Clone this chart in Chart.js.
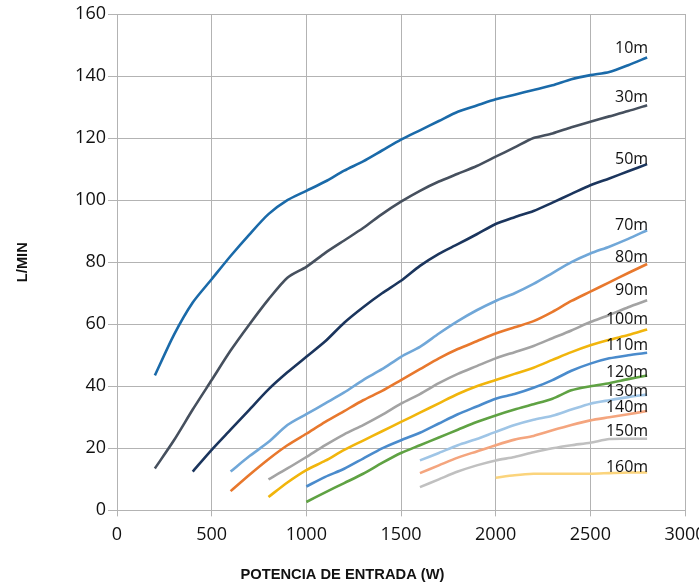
<!DOCTYPE html>
<html>
<head>
<meta charset="utf-8">
<script src="https://cdn.jsdelivr.net/npm/chart.js@4.4.1/dist/chart.umd.min.js"></script>
<style>
  html, body { margin: 0; padding: 0; background: #fff; }
  #wrap { width: 699px; height: 584px; }
</style>
</head>
<body>
<div id="wrap"><canvas id="bombaChart"></canvas></div>
<script>
// potencia de entrada (W) y caudal (L/min) por altura
const potencia = [200, 300, 400, 500, 600, 700, 800, 900, 1000, 1100, 1200, 1300, 1400, 1500,
                  1600, 1700, 1800, 1900, 2000, 2100, 2200, 2300, 2400, 2500, 2600, 2700, 2800];

const alturas = ['10m', '30m', '50m', '70m', '80m', '90m', '100m', '110m', '120m', '130m', '140m', '150m', '160m'];

const q10  = [43.5, 56.5, 67, 74.5, 82, 89, 95.5, 100, 103, 106, 109.5, 112.5, 116, 119.5, 122.5, 125.5, 128.5, 130.5, 132.5, 134, 135.5, 137, 139, 140.3, 141.3, 143.5, 146];
const q30  = [13.5, 22.5, 32.5, 42, 51.5, 60, 68, 75, 78.5, 83, 87, 91, 95.5, 99.5, 103, 106, 108.5, 111, 114, 117, 120, 121.5, 123.5, 125.3, 127, 128.7, 130.6];
const q50  = [null, null, 12.5, 19.5, 26, 32.5, 39, 44.5, 49.5, 54.5, 60.5, 65.5, 70, 74, 78.8, 82.7, 85.8, 89, 92.3, 94.5, 96.5, 99.2, 102, 104.8, 107, 109.3, 111.6];
const q70  = [null, null, null, null, 12.5, 17.5, 22, 27.5, 31, 34.5, 38, 42, 45.5, 49.5, 52.7, 57, 61, 64.5, 67.5, 70, 73, 76.5, 80, 82.8, 85, 87.5, 90.3];
const q80  = [null, null, null, null, 6.2, 11.5, 16.5, 21, 24.7, 28.5, 32, 35.5, 38.5, 42, 45.5, 49, 52, 54.5, 57, 59, 61, 64, 67.5, 70.5, 73.5, 76.5, 79.4];
const q90  = [null, null, null, null, null, null, 10, 13.5, 17.2, 21, 24.5, 27.5, 30.8, 34.4, 37.5, 41, 44, 46.5, 49, 51, 53, 55.5, 58, 60.7, 63, 65.5, 67.7];
const q100 = [null, null, null, null, null, null, 4.3, 9, 13, 16, 19.5, 22.5, 25.5, 28.5, 31.5, 34.5, 37.5, 40, 42, 44, 46, 48.5, 51, 53.2, 55, 56.5, 58.3];
const q110 = [null, null, null, null, null, null, null, null, 7.7, 10.8, 13.4, 16.7, 20, 22.6, 25, 28, 31, 33.5, 36, 37.5, 39.5, 42, 45, 47.3, 49, 50, 50.8];
const q120 = [null, null, null, null, null, null, null, null, 2.7, 5.8, 8.8, 11.8, 15.3, 18.5, 21, 23.5, 26, 28.5, 30.6, 32.5, 34.2, 36, 38.7, 40, 41, 42.3, 43.5];
const q130 = [null, null, null, null, null, null, null, null, null, null, null, null, null, null, 16.1, 18.5, 21, 23, 25.3, 27.5, 29.2, 30.5, 32.5, 34.4, 35.5, 36.5, 37.3];
const q140 = [null, null, null, null, null, null, null, null, null, null, null, null, null, null, 12, 14.5, 17, 19, 21, 22.8, 24, 25.8, 27.5, 29, 30, 31, 32];
const q150 = [null, null, null, null, null, null, null, null, null, null, null, null, null, null, 7.5, 10, 12.5, 14.5, 16.1, 17.2, 18.7, 20, 21, 21.8, 23, 23.1, 23.1];
const q160 = [null, null, null, null, null, null, null, null, null, null, null, null, null, null, null, null, null, null, 10.5, 11.3, 11.8, 11.8, 11.8, 11.8, 12, 12.2, 12.2];

const xTicks = [0, 500, 1000, 1500, 2000, 2500, 3000];
const yTicks = [0, 20, 40, 60, 80, 100, 120, 140, 160];

// estilos
const colores = ['#1a6aa9', '#46505e', '#1b355d', '#70a7d8', '#e8782d', '#a3a3a3', '#f1b50c',
                 '#4a8bcc', '#5fa243', '#9fc5e6', '#f4a57e', '#c0c0c0', '#fbd47c'];
// desplazamiento vertical (px) de cada etiqueta respecto al final de su curva
const etiquetaDy = [-4, -3, 0, 0, -2, -5, -5.5, -3, 1.5, 1.3, 1, -2.7, -0.5];

const series = [q10, q30, q50, q70, q80, q90, q100, q110, q120, q130, q140, q150, q160];

function puntos(vals) {
  const out = [];
  vals.forEach((v, i) => { if (v !== null) out.push({ x: potencia[i], y: v }); });
  return out;
}

const datasets = series.map((vals, i) => ({
  label: alturas[i],
  data: puntos(vals),
  borderColor: colores[i],
  backgroundColor: colores[i],
  borderWidth: 2.6,
  pointRadius: 0,
  tension: 0.25,
  fill: false
}));

// etiquetas al final de cada curva
const etiquetas = {
  id: 'etiquetas',
  afterDatasetsDraw(chart) {
    const ctx = chart.ctx;
    ctx.save();
    ctx.font = '16px "Open Sans"';
    ctx.fillStyle = '#111';
    ctx.textAlign = 'right';
    ctx.textBaseline = 'alphabetic';
    chart.data.datasets.forEach((ds, i) => {
      const meta = chart.getDatasetMeta(i);
      const last = meta.data[meta.data.length - 1];
      ctx.fillText(ds.label, last.x + 1, last.y + etiquetaDy[i]);
    });
    ctx.restore();
  }
};

const gridColor = '#b3b3b3';
const tickFont = { family: '"Open Sans"', size: 18 };
const titleFont = { family: '"Liberation Sans"', size: 14.7, weight: 'bold' };

function dibujar() {
  new Chart(document.getElementById('bombaChart'), {
    type: 'line',
    data: { datasets: datasets },
    options: {
      responsive: true,
      maintainAspectRatio: false,
      animation: false,
      layout: { padding: { left: 0, right: 14, top: 14, bottom: 0 } },
      plugins: {
        legend: { display: false },
        tooltip: { enabled: false },
        title: {
          display: true,
          position: 'bottom',
          text: 'POTENCIA DE ENTRADA (W)',
          color: '#111',
          font: titleFont,
          padding: 0
        }
      },
      scales: {
        x: {
          type: 'linear',
          min: 0,
          max: 3000,
          afterBuildTicks: (s) => { s.ticks = xTicks.map(v => ({ value: v })); },
          afterFit: (s) => { s.height = 56; s.paddingLeft = 0; s.paddingRight = 0; },
          ticks: {
            font: tickFont, color: '#111', padding: 8, maxRotation: 0, autoSkip: false,
            callback: (v) => String(v)
          },
          grid: { color: gridColor, lineWidth: 1, tickLength: 6 },
          border: { color: gridColor }
        },
        y: {
          min: 0,
          max: 160,
          afterBuildTicks: (s) => { s.ticks = yTicks.map(v => ({ value: v })); },
          afterFit: (s) => { s.width = 117; s.paddingTop = 0; s.paddingBottom = 0; },
          ticks: { font: tickFont, color: '#111', padding: 2, callback: (v) => String(v) },
          grid: { color: gridColor, lineWidth: 1, tickLength: 9 },
          border: { color: gridColor },
          title: {
            display: true,
            text: 'L/MIN',
            color: '#111',
            font: titleFont,
            padding: { top: 14, bottom: 0 }
          }
        }
      }
    },
    plugins: [etiquetas]
  });
}

Promise.all([
  document.fonts.load('18px "Open Sans"'),
  document.fonts.load('16px "Open Sans"'),
  document.fonts.load('bold 15px "Liberation Sans"')
]).then(dibujar, dibujar);
</script>
</body>
</html>
